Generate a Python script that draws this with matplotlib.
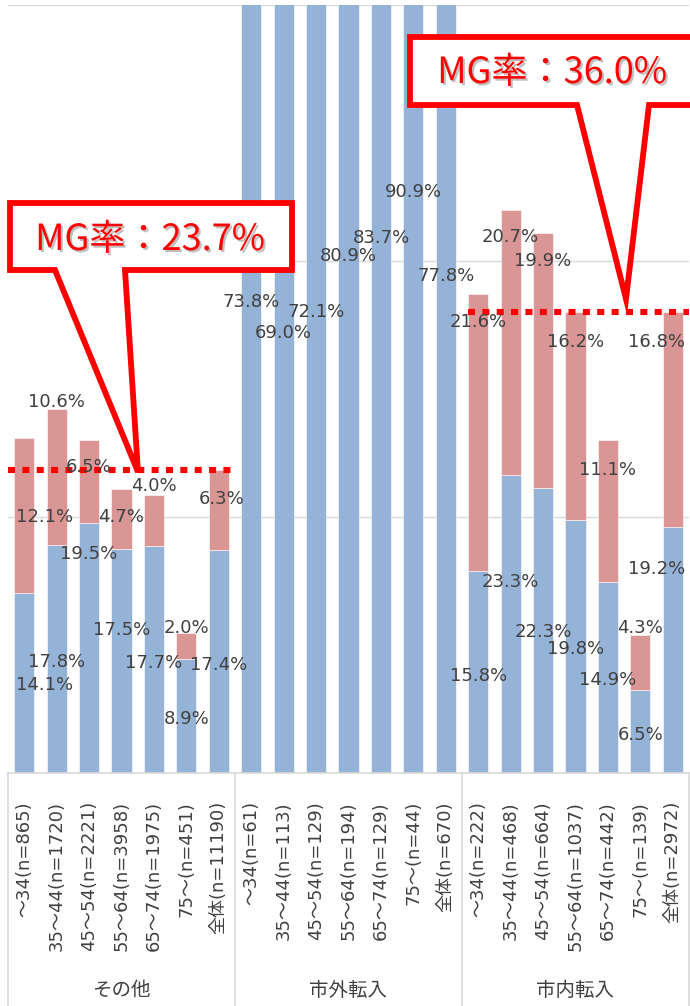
import numpy as np
import matplotlib
matplotlib.use("Agg")
import matplotlib.pyplot as plt
from matplotlib.patches import Polygon
from matplotlib.transforms import Affine2D, blended_transform_factory
import matplotlib.patheffects as pe

plt.rcParams['font.family'] = ['DejaVu Sans', 'Noto Sans CJK JP']
CJK = ['Noto Sans CJK JP', 'DejaVu Sans']

# ---------------- data ----------------
groups = ['その他', '市外転入', '市内転入']
ages = ['～34', '35～44', '45～54', '55～64', '65～74', '75～', '全体']
n_other = [865, 1720, 2221, 3958, 1975, 451, 11190]
n_out = [61, 113, 129, 194, 129, 44, 670]
n_in = [222, 468, 664, 1037, 442, 139, 2972]

blue_other = [14.1, 17.8, 19.5, 17.5, 17.7, 8.9, 17.4]
pink_other = [12.1, 10.6, 6.5, 4.7, 4.0, 2.0, 6.3]
blue_out = [73.8, 69.0, 72.1, 80.9, 83.7, 90.9, 77.8]
pink_out = [np.nan] * 7          # above the visible range, not shown
blue_in = [15.8, 23.3, 22.3, 19.8, 14.9, 6.5, 19.2]
pink_in = [21.6, 20.7, 19.9, 16.2, 11.1, 4.3, 16.8]
mg_rate = [23.7, np.nan, 36.0]

# label placement (manual positions as in the original chart)
lab_dx_blue = [0.62, 0, 0, 0, 0, 0, 0,  0, 0, 0, 0, 0, 0, 0,  0, 0, 0, 0, 0, 0, -0.5]
lab_y_blue = [6.9, 8.7, 17.1, 11.2, 8.6, 4.2, 8.4,
              36.8, 34.4, 36.0, 40.4, 41.8, 45.4, 38.8,
              7.6, 14.9, 11.0, 9.7, 7.3, 3.0, 15.9]
lab_dx_pink = [0.62, 0, 0, 0, 0, 0, 0.1,  0, 0, 0, 0, 0, 0, 0,  0, 0, 0, 0, 0, 0, -0.5]
lab_y_pink = [20.0, 29.0, 23.9, 20.0, 22.4, 11.3, 21.4,
              np.nan, np.nan, np.nan, np.nan, np.nan, np.nan, np.nan,
              35.2, 41.9, 40.0, 33.7, 23.7, 11.3, 33.7]

BLUE = '#95B3D7'
PINK = '#DA9694'
LABEL = '#404040'
GRID = '#D9D9D9'
RED = '#FF0000'

blue = np.array(blue_other + blue_out + blue_in, dtype=float)
pink = np.array(pink_other + pink_out + pink_in, dtype=float)
ticklabels = ([f'{a}(n={n})' for a, n in zip(ages, n_other)] +
              [f'{a}(n={n})' for a, n in zip(ages, n_out)] +
              [f'{a}(n={n})' for a, n in zip(ages, n_in)])
x = np.arange(len(blue))

W, H = 690, 1006
fig = plt.figure(figsize=(W / 100, H / 100), dpi=100)
ax = fig.add_axes([8 / W, 1 - 773 / H, 681 / W, 768 / H])
ax.set_xlim(-0.5, len(x) - 0.5)
ax.set_ylim(0, 60)

for y in [20, 40, 60]:
    ax.axhline(y, color=GRID, lw=1.0, zorder=0)

ax.bar(x, blue, width=0.62, color=BLUE, edgecolor='white', linewidth=0.4, zorder=2)
m = ~np.isnan(pink)
ax.bar(x[m], pink[m], bottom=blue[m], width=0.62, color=PINK,
       edgecolor='white', linewidth=0.4, zorder=2)

for spine in ax.spines.values():
    spine.set_visible(False)
ax.set_xticks([])
ax.set_yticks([])
ax.axhline(0, color=GRID, lw=1.2, zorder=3, clip_on=False)

# data labels
for i in range(len(x)):
    ax.text(x[i] + lab_dx_blue[i], lab_y_blue[i], f'{blue[i]:.1f}%', ha='center',
            va='center', fontsize=13, color=LABEL, zorder=6)
    if not np.isnan(pink[i]):
        ax.text(x[i] + lab_dx_pink[i], lab_y_pink[i], f'{pink[i]:.1f}%', ha='center',
                va='center', fontsize=13, color=LABEL, zorder=6)

# MG dotted lines
gi_ranges = [(-0.5, 6.44), None, (13.68, 20.5)]
for g, r in enumerate(gi_ranges):
    if r is None:
        continue
    ax.plot([r[0], r[1]], [mg_rate[g], mg_rate[g]], color=RED, lw=4.4,
            dashes=(1.15, 1.2), solid_capstyle='butt', dash_capstyle='butt', zorder=5)

# category axis labels
tb = blended_transform_factory(ax.transData, ax.transAxes)
ylab = (773 - 801) / 768
for i in range(len(x)):
    ax.text(x[i], ylab, ticklabels[i], rotation=90, ha='center', va='top',
            fontsize=13, color=LABEL, transform=tb, clip_on=False)
yg = (773 - 990) / 768
for g, name in enumerate(groups):
    ax.text(g * 7 + 3, yg, name, ha='center', va='center', fontsize=14,
            color=LABEL, transform=tb, clip_on=False, family=CJK)
ybot = (773 - 1010) / 768
for xb in [-0.5, 6.5, 13.5, 20.5]:
    ax.plot([xb, xb], [0, ybot], color=GRID, lw=1.2, transform=tb, clip_on=False)

# callouts (figure pixel coordinates)
px = Affine2D().scale(1 / W, -1 / H).translate(0, 1) + fig.transFigure
call1 = [(10, 203), (292, 203), (292, 270), (125, 270), (138, 472), (55, 270), (10, 270)]
call2 = [(410, 37), (705, 37), (705, 105), (649, 105), (626, 299), (577, 105), (410, 105)]
for pts in [call1, call2]:
    poly = Polygon(pts, closed=True, facecolor='white', edgecolor=RED, lw=4.2,
                   joinstyle='miter', transform=px, zorder=10)
    fig.add_artist(poly)

shadow = [pe.withSimplePatchShadow(offset=(1.5, -1.5), shadow_rgbFace='#808080', alpha=0.5)]
fig.text(150 / W, 1 - 240 / H, f'MG率：{mg_rate[0]:.1f}%', ha='center', va='center',
         fontsize=26, color=RED, zorder=11, path_effects=shadow, family=CJK)
fig.text(552 / W, 1 - 73 / H, f'MG率：{mg_rate[2]:.1f}%', ha='center', va='center',
         fontsize=26, color=RED, zorder=11, path_effects=shadow, family=CJK)

fig.savefig('out.png', dpi=100)
